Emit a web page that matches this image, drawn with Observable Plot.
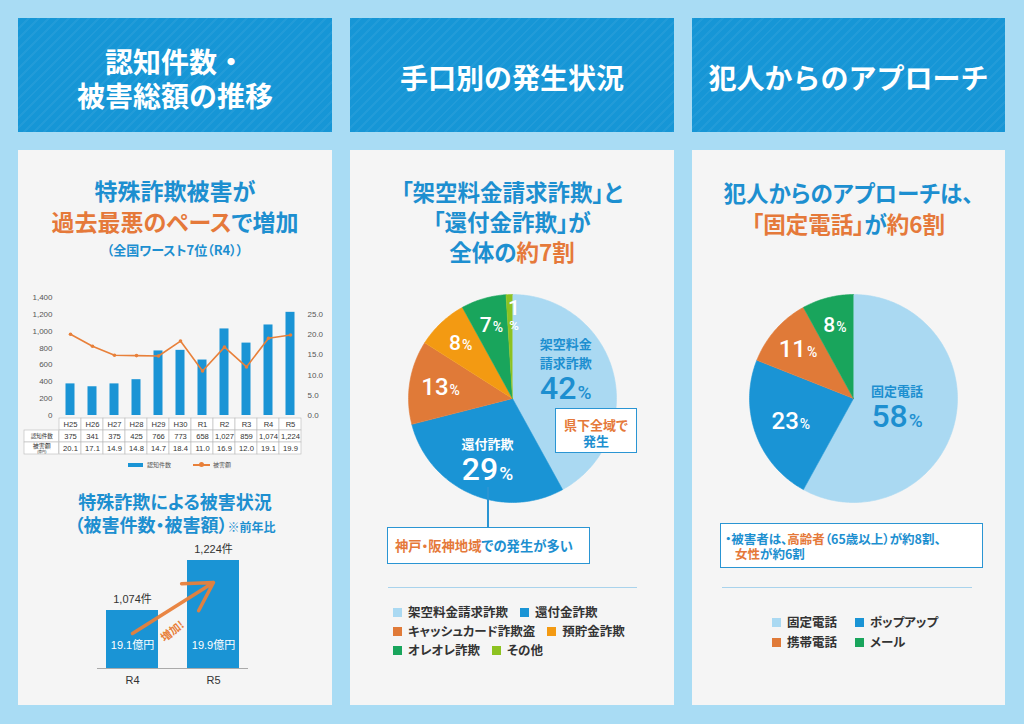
<!DOCTYPE html>
<html><head><meta charset="utf-8">
<script src="https://cdn.jsdelivr.net/npm/d3@7"></script>
<script src="https://cdn.jsdelivr.net/npm/@observablehq/plot@0.6"></script>
<style>
body{margin:0;width:1024px;height:724px;overflow:hidden;background:#a9dcf4;font-family:"Noto Sans CJK JP",sans-serif;position:relative}
.hdr{position:absolute;top:18px;height:114px;background-color:#1696d6;background-image:repeating-linear-gradient(135deg,rgba(255,255,255,0.05) 0 2px,transparent 2px 7px)}
.ht{position:absolute;color:#fff;font-weight:700;font-size:28px;line-height:1;text-align:center;white-space:nowrap}
.panel{position:absolute;top:150px;height:555px;background:#f5f5f5}
.t{position:absolute;text-align:center;font-weight:700;color:#1d8fd0;white-space:nowrap;line-height:1;font-feature-settings:"palt"}
.o{color:#e5793a}
.b{color:#1d8fd0}
.box{position:absolute;background:#fff;border:1.5px solid #2a95d3;box-sizing:border-box}
.bt{position:absolute;font-weight:700;white-space:nowrap;line-height:1;font-feature-settings:"palt"}
.sep{position:absolute;height:1px;background:#a9d3ec}
.pl{position:absolute}
.pl svg{overflow:visible}
.leg{position:absolute;font-size:12.5px;font-weight:700;color:#333;white-space:nowrap;line-height:1;display:flex;align-items:center;font-feature-settings:"palt"}
.sq{display:inline-block;width:9px;height:9px;margin-right:6px}
</style></head>
<body>
<div class="hdr" style="left:18px;width:314px;"></div>
<div class="hdr" style="left:350px;width:324px;"></div>
<div class="hdr" style="left:692px;width:313px;"></div>
<div class="ht" style="left:18px;width:314px;top:47px">認知件数・</div>
<div class="ht" style="left:18px;width:314px;top:81px">被害総額の推移</div>
<div class="ht" style="left:350px;width:324px;top:63px">手口別の発生状況</div>
<div class="ht" style="left:692px;width:313px;top:63px">犯人からのアプローチ</div>
<div class="panel" style="left:18px;width:314px;"></div>
<div class="panel" style="left:350px;width:324px;"></div>
<div class="panel" style="left:692px;width:313px;"></div>

<!-- column 1 titles -->
<div class="t" style="left:18px;width:314px;top:179px;font-size:23px;">特殊詐欺被害が</div>
<div class="t" style="left:18px;width:314px;top:210px;font-size:23px;"><span class="o">過去最悪のペース</span>で増加</div>
<div class="t" style="left:18px;width:314px;top:243px;font-size:13px;">（全国ワースト7位（R4））</div>
<div class="t" style="left:18px;width:314px;top:492px;font-size:18px;">特殊詐欺による被害状況</div>
<div class="t" style="left:18px;width:314px;top:515px;font-size:18px;">（被害件数・被害額）<span style="font-size:12px">※前年比</span></div>

<!-- column 2 titles -->
<div class="t" style="left:350px;width:324px;top:180px;font-size:22.5px;">「架空料金請求詐欺」と</div>
<div class="t" style="left:350px;width:324px;top:210px;font-size:22.5px;">「還付金詐欺」が</div>
<div class="t" style="left:350px;width:324px;top:240px;font-size:22.5px;">全体の<span class="o">約7割</span></div>

<!-- column 3 titles -->
<div class="t" style="left:692px;width:313px;top:181px;font-size:22.5px;">犯人からのアプローチは、</div>
<div class="t" style="left:692px;width:313px;top:212px;font-size:22.5px;"><span class="o">「固定電話」</span>が<span class="o">約6割</span></div>

<div id="combo" class="pl" style="left:20px;top:288px;"></div>
<div id="table" class="pl" style="left:20px;top:418px;"></div>
<div id="cmp" class="pl" style="left:20px;top:530px;"></div>
<div id="pie1" class="pl" style="left:402px;top:288px;"></div>
<div id="pie2" class="pl" style="left:743px;top:288px;"></div>

<!-- combo legend -->
<div style="position:absolute;left:128px;top:463px;width:15px;height:4px;background:#1a94d5"></div>
<div style="position:absolute;left:147px;top:461px;font-size:6px;color:#555;line-height:8px">認知件数</div>
<div style="position:absolute;left:193px;top:464px;width:17px;height:1.5px;background:#e8803a"></div>
<div style="position:absolute;left:199px;top:462px;width:5px;height:5px;border-radius:50%;background:#e8803a"></div>
<div style="position:absolute;left:213px;top:461px;font-size:6px;color:#555;line-height:8px">被害額</div>

<!-- column 2 annotations -->
<div class="box" style="left:555px;top:408px;width:82px;height:45px;"></div>
<div class="bt o" style="left:555px;width:82px;text-align:center;top:418px;font-size:13px">県下全域で</div>
<div class="bt b" style="left:555px;width:82px;text-align:center;top:434px;font-size:13px">発生</div>
<div style="position:absolute;left:487px;top:487px;width:1.5px;height:40px;background:#2a95d3"></div>
<div class="box" style="left:387px;top:527px;width:203px;height:37px;"></div>
<div class="bt" style="left:395px;top:539px;font-size:13.3px"><span class="o">神戸・阪神地域</span><span class="b">での発生が多い</span></div>
<div class="sep" style="left:388px;top:587px;width:249px"></div>
<div id="leg1"></div>

<!-- column 3 annotations -->
<div class="box" style="left:720px;top:523px;width:263px;height:45px;"></div>
<div class="bt" style="left:725px;top:533px;font-size:12.5px"><span class="b">・被害者は、</span><span class="o">高齢者</span><span class="b">（65歳以上）が約8割、</span></div>
<div class="bt" style="left:735px;top:548px;font-size:12.5px"><span class="o">女性</span><span class="b">が約6割</span></div>
<div class="sep" style="left:722px;top:587px;width:250px"></div>
<div id="leg2"></div>

<script>
// ---------- data ----------
const years = ["H25","H26","H27","H28","H29","H30","R1","R2","R3","R4","R5"];
const counts = [375,341,375,425,766,773,658,1027,859,1074,1224];
const amounts = [20.1,17.1,14.9,14.8,14.7,18.4,11.0,16.9,12.0,19.1,19.9];
const countTicks = [0,200,400,600,800,1000,1200,1400];
const amountTicks = [0,5,10,15,20,25];
const tableRows = ["year","count","amount"];

const cmpYears = ["R4","R5"];
const cmpCounts = [1074,1224];
const cmpAmounts = [19.1,19.9];
const cmpBase = 900;
const growthLabel = "増加!";
const growthArrow = [{from:"R4", to:"R5", y1:1005, y2:1158}];

const methodCats = ["架空料金請求詐欺","還付金詐欺","キャッシュカード詐欺盗","預貯金詐欺","オレオレ詐欺","その他"];
const methodShares = [42,29,13,8,7,1];
const methodPieNames = ["架空料金\n請求詐欺","還付詐欺","","","",""];
const approachCats = ["固定電話","ポップアップ","携帯電話","メール"];
const approachShares = [58,23,11,8];
const approachPieNames = ["固定電話","","",""];

// ---------- styles ----------
const BLUE="#1a94d5", LIGHT="#aad9f2", BROWN="#e07a38", ORANGE="#f39a12", GREEN="#19a55c", LIME="#8dc221";
const LINE="#e8803a", TXTBLUE="#1d8fd0";
const methodColors = [LIGHT,BLUE,BROWN,ORANGE,GREEN,LIME];
const approachColors = [LIGHT,BLUE,BROWN,GREEN];
const NUMFONT = "Roboto, 'Liberation Sans', sans-serif";
const baseStyle = {background:"transparent", fontFamily:"'Liberation Sans', 'Noto Sans CJK JP', sans-serif", color:"#444", overflow:"visible"};

// ---------- combo chart ----------
const rows = years.map((y,i)=>({year:y, count:counts[i], amount:amounts[i]}));
const K = 1200/25; // right-axis (億円) to left-axis (件) factor
document.getElementById("combo").append(Plot.plot({
  width:310, height:128, marginLeft:37, marginRight:27, marginTop:9, marginBottom:1,
  x:{domain:years, padding:0, axis:null},
  y:{domain:[0,1400], axis:null},
  style:{...baseStyle, fontSize:"8px"},
  marks:[
    Plot.barY(rows,{x:"year", y:"count", fill:BLUE, insetLeft:6.5, insetRight:6.5}),
    Plot.axisY({anchor:"left", label:null, ticks:countTicks, tickSize:0, tickPadding:5, tickFormat:d3.format(","), fill:"#555"}),
    Plot.axisY({anchor:"right", label:null, ticks:amountTicks.map(v=>v*K), tickSize:0, tickPadding:4, tickFormat:d=>(d/K).toFixed(1), fill:"#555"}),
    Plot.line(rows,{x:"year", y:d=>d.amount*K, stroke:LINE, strokeWidth:1.6}),
    Plot.dot(rows,{x:"year", y:d=>d.amount*K, fill:LINE, r:1.8})
  ]
}));

// ---------- table under combo ----------
const cells = [];
years.forEach((y,i)=>{
  cells.push({year:y,row:"year",label:y});
  cells.push({year:y,row:"count",label:d3.format(",")(counts[i])});
  cells.push({year:y,row:"amount",label:amounts[i].toFixed(1)});
});
const step = 246/11;
document.getElementById("table").append(Plot.plot({
  width:310, height:36, marginLeft:37, marginRight:27, marginTop:0, marginBottom:0,
  x:{domain:years, padding:0, axis:null},
  y:{domain:tableRows, padding:0, axis:null},
  style:{...baseStyle, fontSize:"7.6px"},
  marks:[
    Plot.cell(cells,{x:"year", y:"row", fill:"white", stroke:"#b8b8b8", strokeWidth:0.6}),
    Plot.cell(["count","amount"],{x:()=>years[0], y:d=>d, dx:-step, insetLeft:-(35-step), fill:"white", stroke:"#b8b8b8", strokeWidth:0.6}),
    Plot.text(cells,{x:"year", y:"row", text:"label", fill:"#333"}),
    Plot.text(["count"],{x:()=>years[0], y:d=>d, text:()=>"認知件数", dx:-28.7, fontSize:5.5, fill:"#333"}),
    Plot.text(["amount"],{x:()=>years[0], y:d=>d, text:()=>"被害額", dx:-28.7, dy:-2, fontSize:6, fill:"#333"}),
    Plot.text(["amount"],{x:()=>years[0], y:d=>d, text:()=>"(億円)", dx:-28.7, dy:3.5, fontSize:3.5, fill:"#333"})
  ]
}));

// ---------- comparison bars ----------
const cmp = cmpYears.map((y,i)=>({year:y, count:cmpCounts[i], amount:cmpAmounts[i]}));
document.getElementById("cmp").append(Plot.plot({
  width:310, height:168, marginLeft:77, marginRight:82, marginTop:10, marginBottom:30,
  x:{domain:cmpYears, paddingInner:0.354, paddingOuter:0.098, axis:null},
  y:{domain:[cmpBase,1284], axis:null},
  style:{...baseStyle, fontSize:"11px"},
  marks:[
    Plot.barY(cmp,{x:"year", y1:cmpBase, y2:"count", fill:BLUE}),
    Plot.ruleY([cmpBase],{stroke:"#aaa"}),
    Plot.text(cmp,{x:"year", y:"count", text:d=>d3.format(",")(d.count)+"件", dy:-11, fill:"#333", fontSize:11}),
    Plot.text(cmp,{x:"year", y:cmpBase, text:d=>d.amount.toFixed(1)+"億円", dy:-23, fill:"white", fontSize:11}),
    Plot.arrow(growthArrow,{x1:"from", y1:"y1", x2:"to", y2:"y2", stroke:LINE, strokeWidth:3.5, headLength:14, strokeOpacity:0.95}),
    Plot.text(growthArrow,{x:"from", y:d=>d.y1, text:()=>growthLabel, dx:40, dy:-2, rotate:-38, fill:LINE, fontWeight:"bold", fontSize:11, fontFamily:"'Noto Sans CJK JP'"}),
    Plot.axisX({tickSize:0, tickPadding:8, fill:"#333", fontSize:11})
  ]
}));

// ---------- pies ----------
function pieChart(cats, vals, colors, names, bigDy){
  const total = d3.sum(vals);
  let acc = 0;
  const pts = [], lab = [];
  cats.forEach((c,i)=>{
    const a0 = acc/total*2*Math.PI; acc += vals[i]; const a1 = acc/total*2*Math.PI;
    const n = Math.max(2, Math.ceil((a1-a0)*180/Math.PI));
    pts.push({c, x:0, y:0});
    for(let k=0;k<=n;k++){ const a=a0+(a1-a0)*k/n; pts.push({c, x:Math.sin(a), y:Math.cos(a)}); }
    const share = vals[i]/total, am = (a0+a1)/2, rf = 0.78-0.6*share;
    lab.push({c, v:vals[i], share, name:names[i], x:Math.sin(am)*rf, y:Math.cos(am)*rf, fill: i===0 ? TXTBLUE : "white", first:i===0});
  });
  const marks = [Plot.line(pts,{x:"x", y:"y", z:"c", fill:"c", stroke:"c", strokeWidth:0.6, curve:"linear"})];
  lab.forEach(d=>{
    const big = !!d.name, tiny = d.share < 0.03;
    const common = {x:"x", y:"y", fill:d.fill, fontFamily:NUMFONT, fontWeight:500};
    if (tiny) {
      marks.push(Plot.text([d],{...common, text:()=>String(d.v), dx:4, dy:-10, fontSize:21}));
      marks.push(Plot.text([d],{...common, text:()=>"%", dx:4, dy:8, fontSize:13}));
      return;
    }
    const ns = big ? 32 : (d.share < 0.1 ? 21 : 24), ps = big ? 19 : 14;
    const nw = String(d.v).length*0.562*ns, pw = 0.76*ps;
    const split = -(nw+pw)/2 + nw;
    const L = big ? d.name.split("\n").length : 0;
    const shift = d.first ? bigDy : 0;
    const ny = (big ? 13.5 + (L-1)*6.5 : 0) + shift;
    marks.push(Plot.text([d],{...common, text:()=>String(d.v), textAnchor:"end", dx:split, dy:ny, fontSize:ns}));
    marks.push(Plot.text([d],{...common, text:()=>"%", textAnchor:"start", dx:split+1, dy:ny+0.32*(ns-ps), fontSize:ps}));
    if (big) marks.push(Plot.text([d],{x:"x", y:"y", text:()=>d.name, dy:-13.5-(L-1)*3+shift, fontSize:13, fontWeight:"bold", lineHeight:1.45, fill:d.fill, fontFamily:"'Noto Sans CJK JP'"}));
  });
  return Plot.plot({
    width:220, height:220, margin:0,
    x:{domain:[-1.058,1.058], axis:null},
    y:{domain:[-1.058,1.058], axis:null},
    color:{domain:cats, range:colors},
    style:baseStyle,
    marks
  });
}
document.getElementById("pie1").append(pieChart(methodCats, methodShares, methodColors, methodPieNames, -16));
document.getElementById("pie2").append(pieChart(approachCats, approachShares, approachColors, approachPieNames, -6));

// ---------- legends ----------
function legendRows(container, cats, colors, rowsIdx, tops, left, colX){
  const el = document.getElementById(container);
  rowsIdx.forEach((r,ri)=>{
    if (colX) {
      r.forEach((idx,ci)=>{
        const item = document.createElement("div");
        item.className = "leg";
        item.style.left = colX[ci]+"px"; item.style.top = (tops[ri]-7)+"px"; item.style.height="14px";
        item.innerHTML = `<span class="sq" style="background:${colors[idx]}"></span>${cats[idx]}`;
        el.append(item);
      });
    } else {
      const row = document.createElement("div");
      row.className = "leg";
      row.style.left = left+"px"; row.style.top = (tops[ri]-7)+"px"; row.style.height="14px";
      row.innerHTML = r.map(idx=>`<span class="sq" style="background:${colors[idx]}"></span><span style="margin-right:12px">${cats[idx]}</span>`).join("");
      el.append(row);
    }
  });
}
legendRows("leg1", methodCats, methodColors, [[0,1],[2,3],[4,5]], [612,631,650], 393, null);
legendRows("leg2", approachCats, approachColors, [[0,1],[2,3]], [622,642], 0, [772,855]);
</script>
</body></html>
